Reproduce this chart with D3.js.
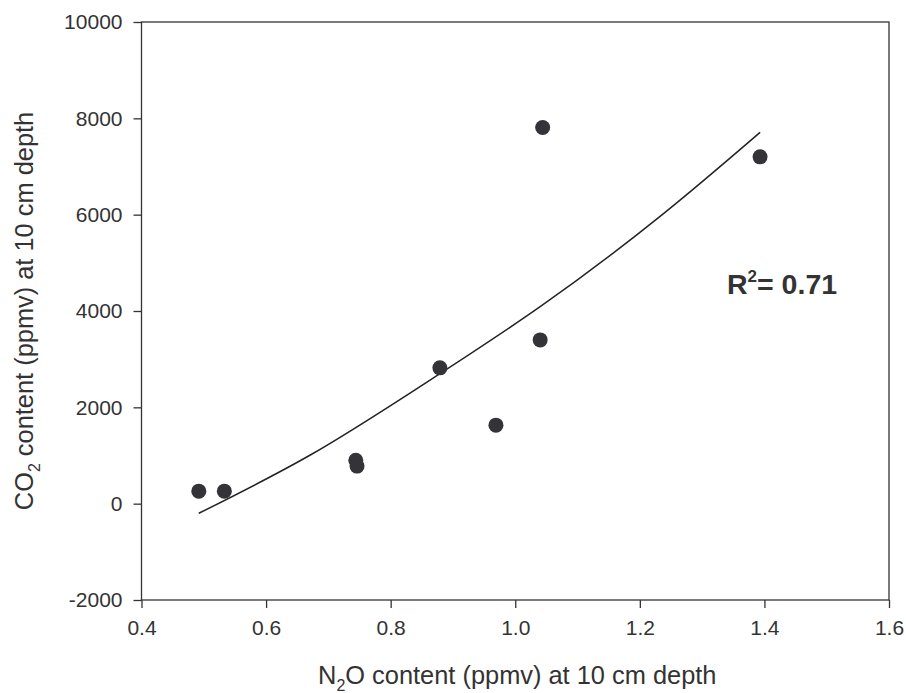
<!DOCTYPE html>
<html>
<head>
<meta charset="utf-8">
<script src="https://cdn.jsdelivr.net/npm/d3@7"></script>
<style>
  html, body { margin: 0; padding: 0; background: #fff; }
  svg { display: block; font-family: "Liberation Sans", Arial, sans-serif; }
</style>
</head>
<body>
<svg id="chart" width="906" height="693"></svg>
<script>
// ---- data ----
const n2o = [0.492, 0.533, 0.744, 0.746, 0.879, 0.969, 1.040, 1.044, 1.393];
const co2 = [260, 260, 900, 780, 2820, 1630, 3400, 7810, 7200];
// fitted regression curve
const curveX = [0.492, 0.671, 0.847, 1.040, 1.232, 1.393];
const curveY = [-200, 1010, 2430, 4090, 5960, 7710];
const xTicks = [0.4, 0.6, 0.8, 1.0, 1.2, 1.4, 1.6];
const yTicks = [-2000, 0, 2000, 4000, 6000, 8000, 10000];
const rSquared = "0.71";

const svg = d3.select("#chart");
const m = { left: 141.5, right: 889, top: 22, bottom: 600 };
const ink = "#333333";

const x = d3.scaleLinear().domain([0.4, 1.6]).range([m.left, m.right]);
const y = d3.scaleLinear().domain([-2000, 10000]).range([m.bottom, m.top]);

// frame
svg.append("rect")
  .attr("x", m.left).attr("y", m.top)
  .attr("width", m.right - m.left).attr("height", m.bottom - m.top)
  .attr("fill", "none").attr("stroke", ink).attr("stroke-width", 1.3);

// axes
const xAxis = svg.append("g")
  .attr("transform", `translate(0,${m.bottom})`)
  .call(d3.axisBottom(x).tickValues(xTicks).tickFormat(d3.format(".1f")).tickSize(8).tickPadding(12));
const yAxis = svg.append("g")
  .attr("transform", `translate(${m.left},0)`)
  .call(d3.axisLeft(y).tickValues(yTicks).tickFormat(d => String(d)).tickSize(8).tickPadding(11));

[xAxis, yAxis].forEach(g => {
  g.select(".domain").remove();
  g.selectAll("line").attr("stroke", ink).attr("stroke-width", 1.3);
  g.selectAll("text").attr("fill", ink).attr("font-size", 21)
    .attr("font-family", '"Liberation Sans", Arial, sans-serif');
});
xAxis.selectAll("text").attr("dy", "0.71em");

// regression curve
const line = d3.line().x(d => x(d[0])).y(d => y(d[1])).curve(d3.curveNatural);
svg.append("path")
  .datum(curveX.map((v, i) => [v, curveY[i]]))
  .attr("d", line)
  .attr("fill", "none").attr("stroke", "#222").attr("stroke-width", 1.5);

// points
svg.append("g").selectAll("circle")
  .data(n2o.map((v, i) => [v, co2[i]]))
  .join("circle")
  .attr("cx", d => x(d[0])).attr("cy", d => y(d[1]))
  .attr("r", 7.5).attr("fill", "#333338");

// x title
const xt = svg.append("text")
  .attr("x", (m.left + m.right) / 2 + 2).attr("y", 684)
  .attr("text-anchor", "middle").attr("font-size", 25.4).attr("fill", ink);
xt.append("tspan").text("N");
xt.append("tspan").text("2").attr("font-size", 16).attr("dy", 7);
xt.append("tspan").text("O content (ppmv) at 10 cm depth").attr("dy", -7);

// y title
const yt = svg.append("text")
  .attr("transform", `translate(33,${(m.top + m.bottom) / 2}) rotate(-90)`)
  .attr("text-anchor", "middle").attr("font-size", 25.4).attr("fill", ink);
yt.append("tspan").text("CO");
yt.append("tspan").text("2").attr("font-size", 16).attr("dy", 7);
yt.append("tspan").text(" content (ppmv) at 10 cm depth").attr("dy", -7);

// R squared annotation
const rt = svg.append("text")
  .attr("x", 727).attr("y", 294)
  .attr("font-size", 28.5).attr("font-weight", "bold").attr("fill", ink);
rt.append("tspan").text("R");
rt.append("tspan").text("2").attr("font-size", 17).attr("dy", -12);
rt.append("tspan").text("= " + rSquared).attr("dy", 12);
</script>
</body>
</html>
